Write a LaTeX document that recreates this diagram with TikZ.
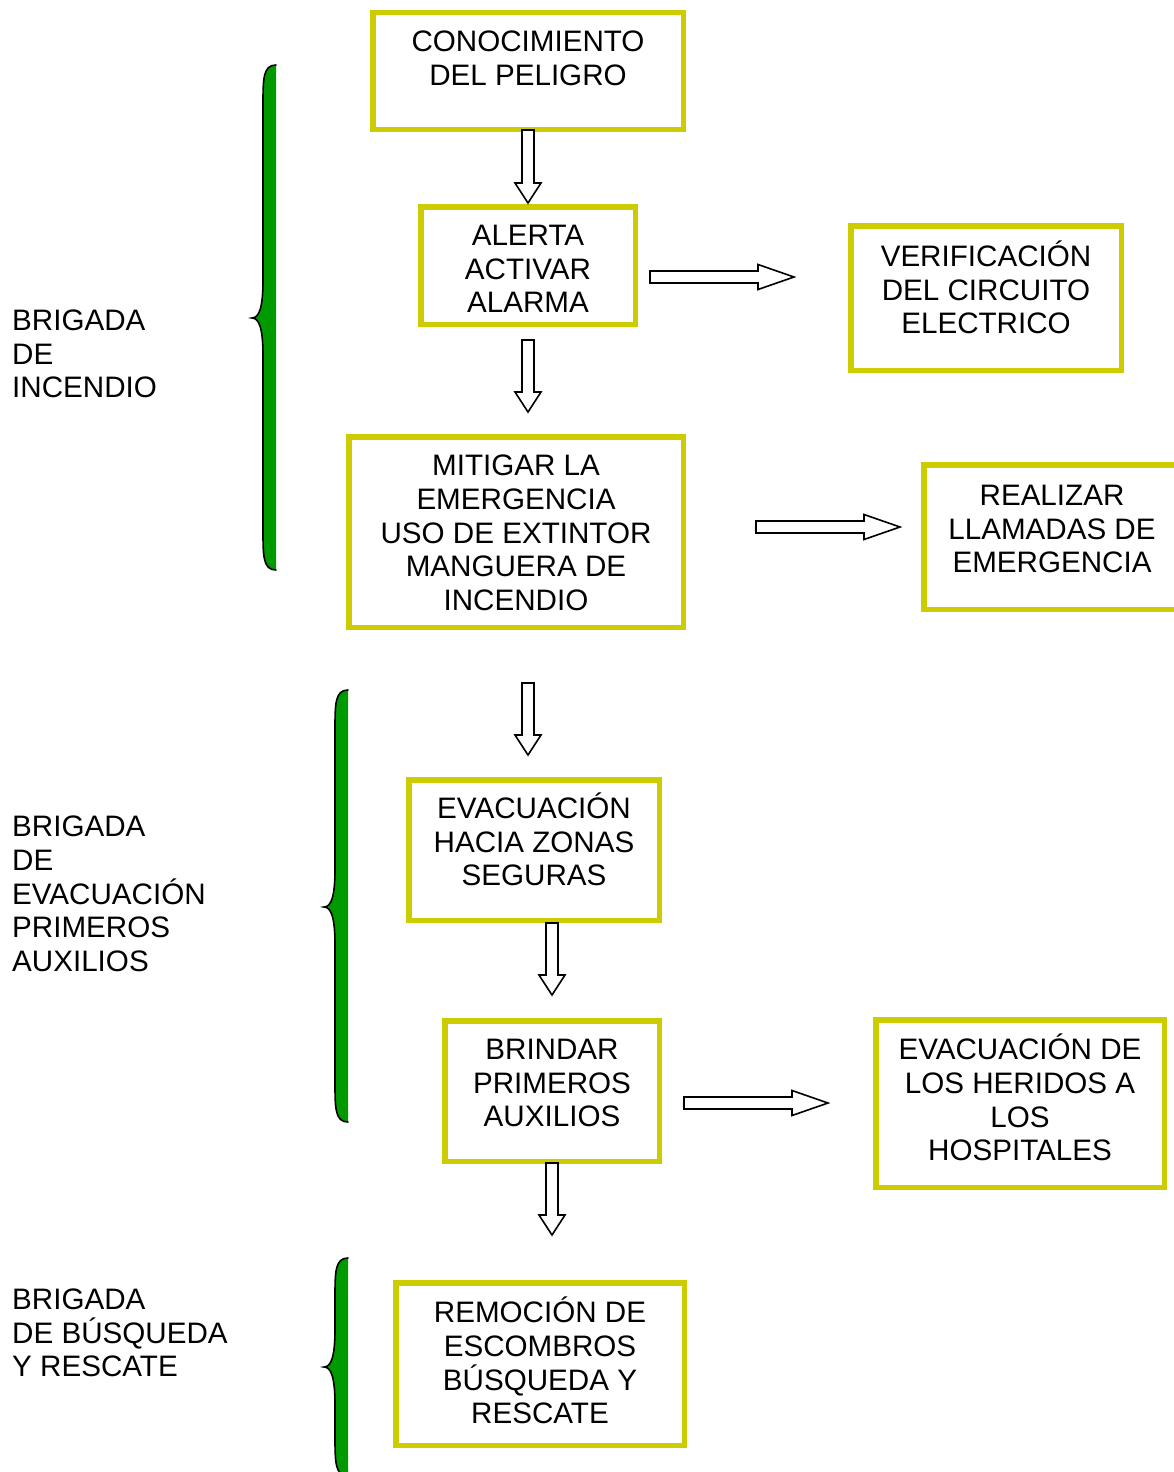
\documentclass[tikz,border=0pt]{standalone}
\usepackage{fontspec}
\setmainfont{Liberation Sans}
\definecolor{boxc}{RGB}{204,204,0}
\definecolor{bracec}{RGB}{0,153,0}
\newcommand{\zs}{\rule[-6.5pt]{0pt}{33.5pt}}
\newcommand{\downblk}[3]{%
  \draw[blk] (#1-6,#2) -- (#1+6,#2) -- (#1+6,#3-20) -- (#1+13,#3-20) -- (#1,#3) -- (#1-13,#3-20) -- (#1-6,#3-20) -- cycle;}
\newcommand{\rightblk}[3]{%
  \draw[blk] (#2,#1-6) -- (#3-36,#1-6) -- (#3-36,#1-12.5) -- (#3,#1) -- (#3-36,#1+12.5) -- (#3-36,#1+6) -- (#2,#1+6) -- cycle;}
\newcommand{\gbrace}[6]{%
  \fill[bracec] (#1,#4) .. controls (#2,#4) and (#2,#4+14) .. (#2,#4+40) -- (#2,#5-38) .. controls (#2,#5-10) and (#2-4,#5) .. (#3,#5) .. controls (#2-4,#5) and (#2,#5+10) .. (#2,#5+38) -- (#2,#6-40) .. controls (#2,#6-14) and (#2,#6) .. (#1,#6) -- cycle;
  \draw[braceline] (#1,#4) .. controls (#2,#4) and (#2,#4+14) .. (#2,#4+40) -- (#2,#5-38) .. controls (#2,#5-10) and (#2-4,#5) .. (#3,#5) .. controls (#2-4,#5) and (#2,#5+10) .. (#2,#5+38) -- (#2,#6-40) .. controls (#2,#6-14) and (#2,#6) .. (#1,#6);}
\begin{document}
\begin{tikzpicture}[x=1pt,y=-1pt,
  box/.style={draw=boxc, line width=5.5pt, fill=white, rectangle, inner sep=0pt},
  txt/.style={font=\fontsize{29.6}{33.7}\selectfont, align=center, inner sep=0pt},
  side/.style={font=\fontsize{29.6}{33.7}\selectfont, align=left, inner sep=0pt, anchor=west},
  blk/.style={draw=black, fill=white, line width=1.6pt, line join=miter},
  braceline/.style={draw=black, line width=1.6pt, line cap=round}]
\useasboundingbox (0,0) rectangle (1174,1472);
\clip (0,0) rectangle (1174,1472);
\fill[white] (0,0) rectangle (1174,1472);

% boxes
\node[box, minimum width=310.5pt, minimum height=116.5pt] (b1) at (528,71) {};
\node[box, minimum width=214.5pt, minimum height=117.5pt] (b2) at (528,265.5) {};
\node[box, minimum width=270.5pt, minimum height=144.5pt] (b3) at (986,298) {};
\node[box, minimum width=334.5pt, minimum height=190.5pt] (b4) at (516,532) {};
\node[box, minimum width=256.5pt, minimum height=144.5pt] (b5) at (1052,537) {};
\node[box, minimum width=250.5pt, minimum height=140.5pt] (b6) at (534,850) {};
\node[box, minimum width=214.5pt, minimum height=140.5pt] (b7) at (552,1091) {};
\node[box, minimum width=288.5pt, minimum height=167.5pt] (b8) at (1020,1103.5) {};
\node[box, minimum width=288.5pt, minimum height=162.5pt] (b9) at (540,1364) {};

% texts
\node[txt] (t1) at (528,58) {\zs CONOCIMIENTO\\\zs DEL PELIGRO};
\node[txt] (t2) at (528,269) {\zs ALERTA\\\zs ACTIVAR\\\zs ALARMA};
\node[txt] (t3) at (986,290) {\zs VERIFICACIÓN\\\zs DEL CIRCUITO\\\zs ELECTRICO};
\node[txt] (t4) at (516,533) {\zs MITIGAR LA\\\zs EMERGENCIA\\\zs USO DE EXTINTOR\\\zs MANGUERA DE\\\zs INCENDIO};
\node[txt] (t5) at (1052,529) {\zs REALIZAR\\\zs LLAMADAS DE\\\zs EMERGENCIA};
\node[txt] (t6) at (534,842) {\zs EVACUACIÓN\\\zs HACIA ZONAS\\\zs SEGURAS};
\node[txt] (t7) at (552,1083) {\zs BRINDAR\\\zs PRIMEROS\\\zs AUXILIOS};
\node[txt] (t8) at (1020,1100) {\zs EVACUACIÓN DE\\\zs LOS HERIDOS A\\\zs LOS\\\zs HOSPITALES};
\node[txt] (t9) at (540,1363) {\zs REMOCIÓN DE\\\zs ESCOMBROS\\\zs BÚSQUEDA Y\\\zs RESCATE};

% side labels
\node[side] (s1) at (12,354) {\zs BRIGADA\\\zs DE\\\zs INCENDIO};
\node[side] (s2) at (12,894) {\zs BRIGADA\\\zs DE\\\zs EVACUACIÓN\\\zs PRIMEROS\\\zs AUXILIOS};
\node[side] (s3) at (12,1333) {\zs BRIGADA\\\zs DE BÚSQUEDA\\\zs Y RESCATE};

% braces
\gbrace{276}{263}{252}{65}{318}{570}
\gbrace{348}{335}{324}{690}{907}{1122}
\gbrace{348}{335}{324}{1258}{1367}{1476}

% block arrows
\downblk{528}{130}{203}
\downblk{528}{340}{412}
\downblk{528}{683}{755}
\downblk{552}{923}{995}
\downblk{552}{1163}{1235}
\rightblk{277}{650}{794}
\rightblk{527}{756}{900}
\rightblk{1103}{684}{828}
\end{tikzpicture}
\end{document}
